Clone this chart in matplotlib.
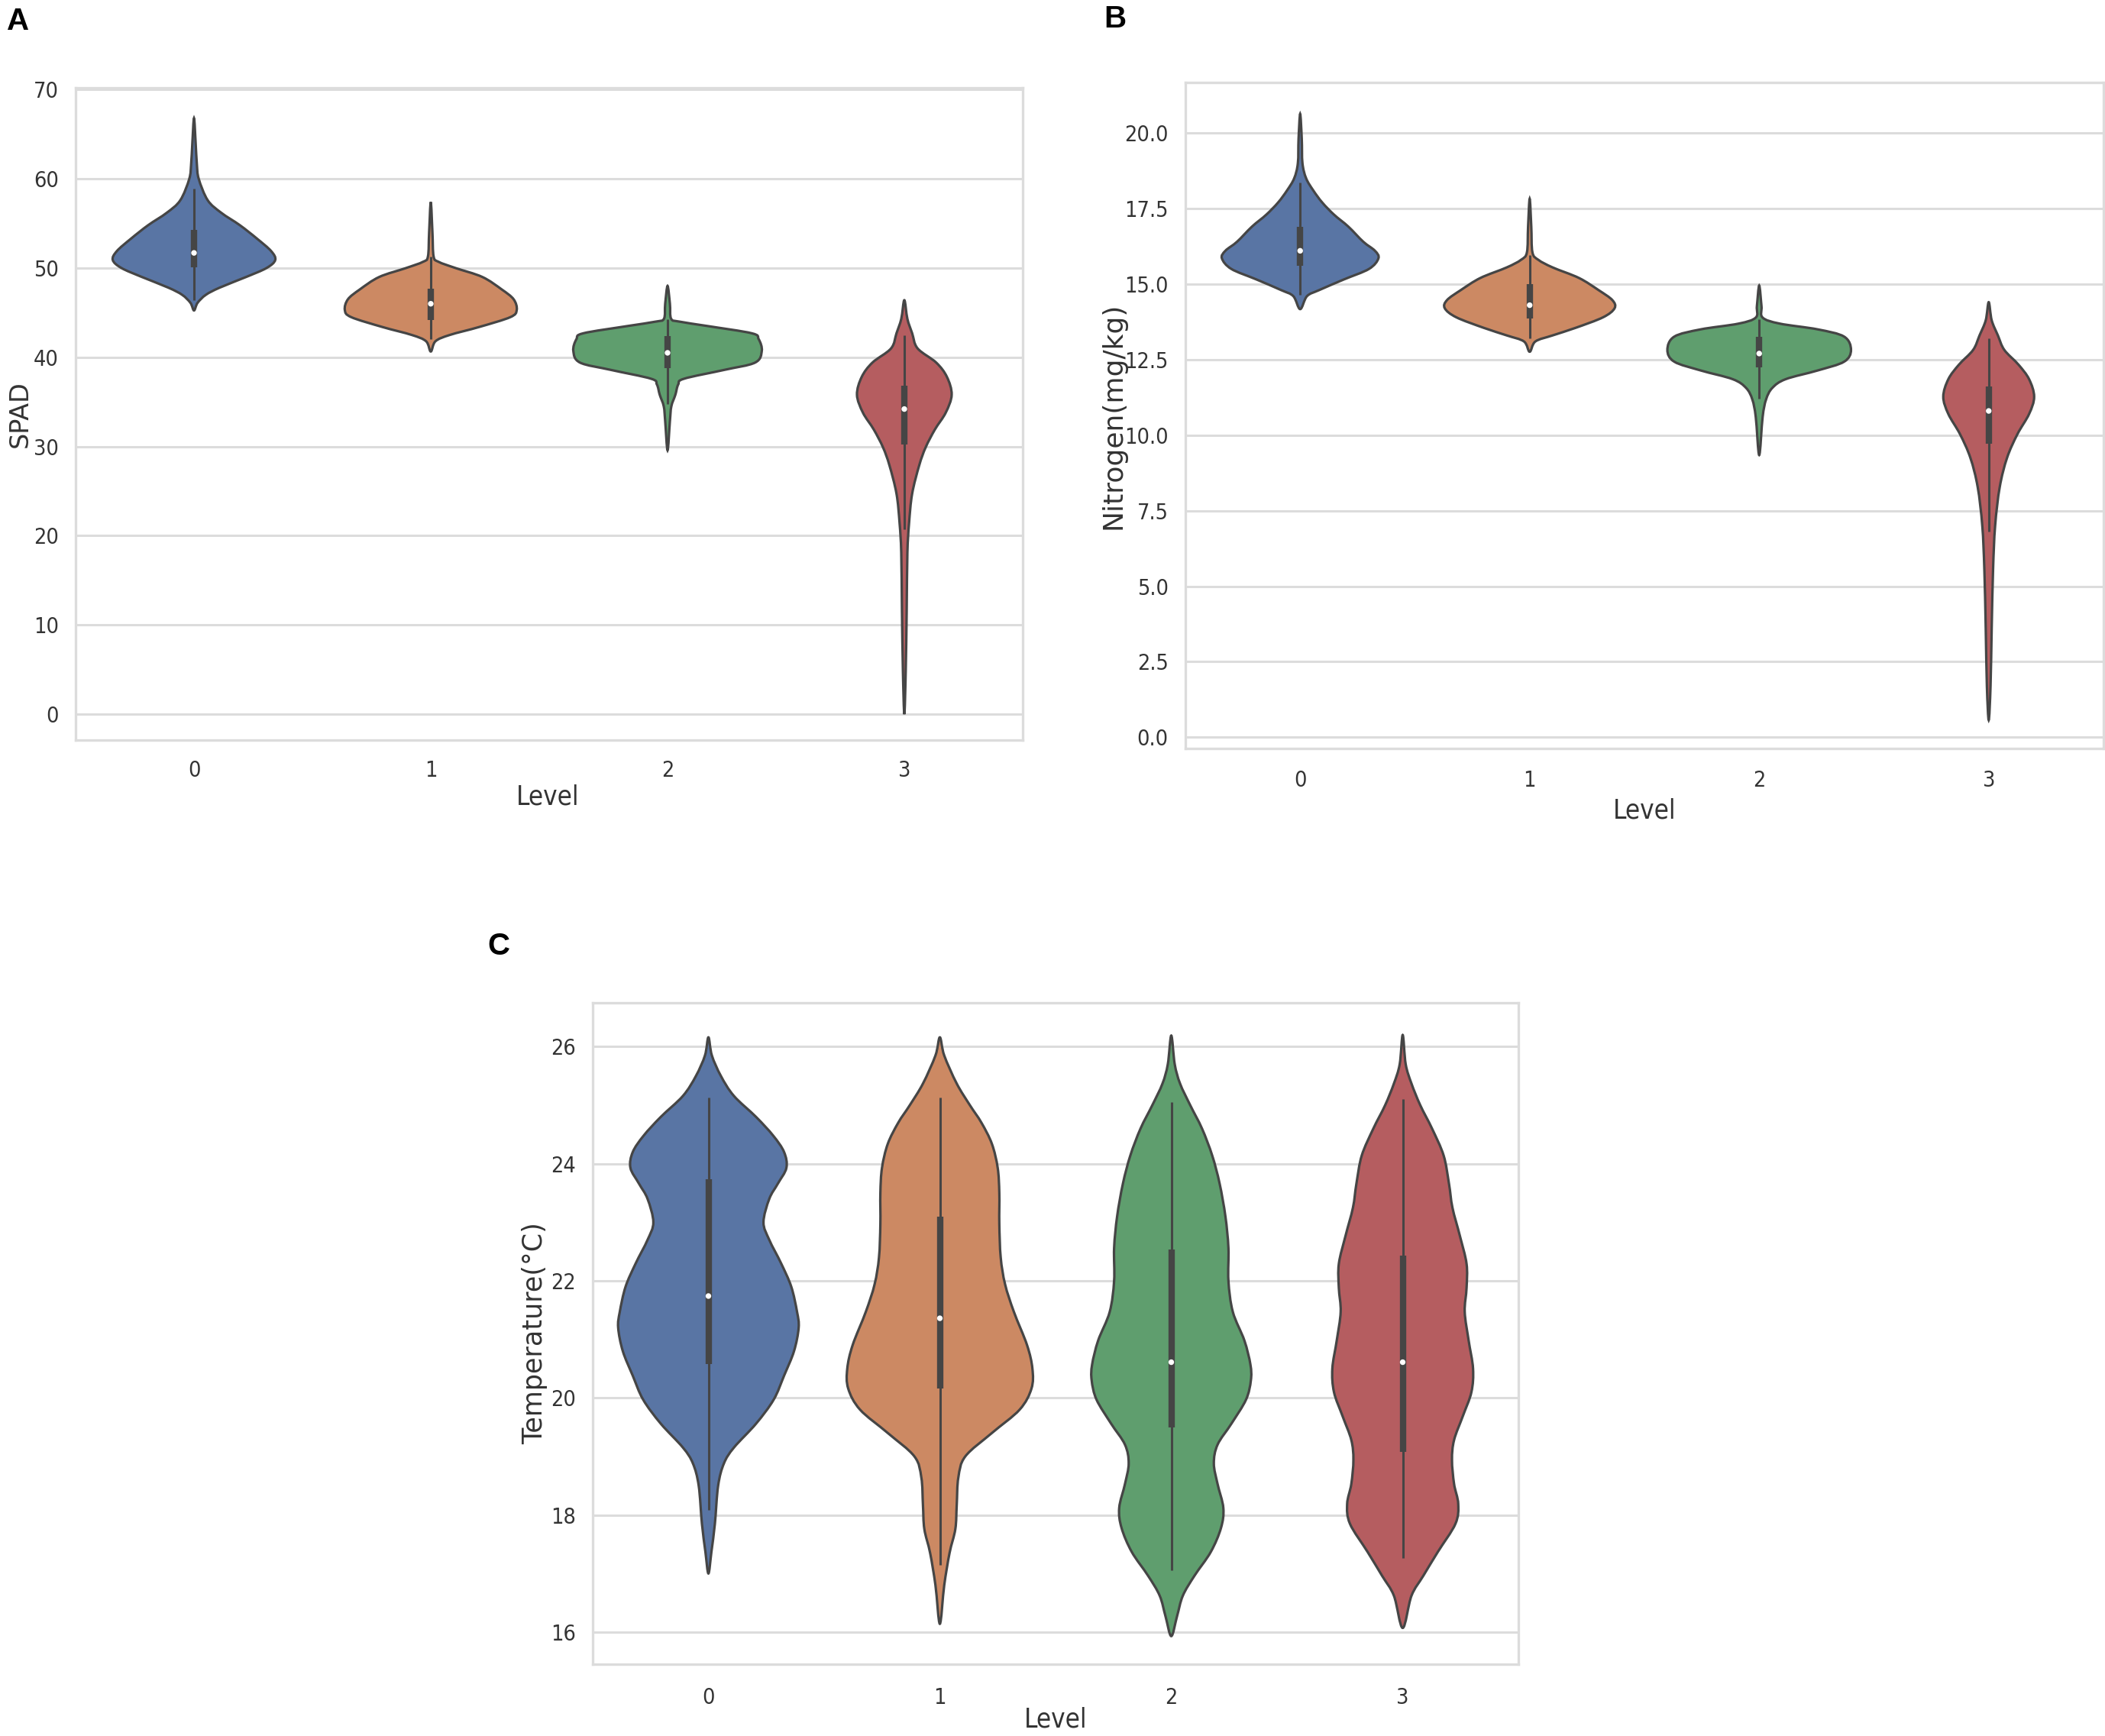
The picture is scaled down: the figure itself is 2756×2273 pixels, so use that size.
import colorsys
import numpy as np
import matplotlib
matplotlib.use("Agg")
import matplotlib.pyplot as plt
from matplotlib import font_manager as fm
from matplotlib.path import Path
from matplotlib.patches import PathPatch

# ---------------- data ----------------
levels = [0, 1, 2, 3]
level_labels = ["0", "1", "2", "3"]

# Panel A: SPAD violin outlines (y value, half width in category units)
spad_y0 = [66.8, 64.0, 61.7, 60.0, 57.6, 56.2, 54.8, 53.3, 51.9, 50.9, 50.0, 49.0, 47.8, 47.0, 46.1, 45.25]
spad_w0 = [0, 0.007, 0.012, 0.02, 0.058, 0.115, 0.194, 0.266, 0.326, 0.343, 0.306, 0.22, 0.108, 0.05, 0.015, 0]
spad_y1 = [57.4, 54.0, 51.3, 50.7, 50.0, 49.0, 47.6, 46.5, 45.3, 44.5, 43.4, 42.5, 41.8, 40.65]
spad_w1 = [0, 0.007, 0.012, 0.033, 0.105, 0.218, 0.30, 0.35, 0.363, 0.336, 0.205, 0.08, 0.02, 0]
spad_y2 = [48.0, 46.0, 44.33, 44.0, 43.5, 42.69, 42.03, 40.72, 39.41, 38.59, 37.6, 36.95, 35.8, 34.5, 32.85, 29.57]
spad_w2 = [0, 0.01, 0.015, 0.05, 0.17, 0.356, 0.385, 0.398, 0.37, 0.24, 0.07, 0.045, 0.033, 0.016, 0.01, 0]
spad_y3 = [46.4, 44.3, 42.7, 41.0, 39.4, 37.8, 35.8, 33.8, 31.9, 29.9, 27.9, 24.7, 21.4, 18.1, 11.6, 4.9, 0.0]
spad_w3 = [0, 0.013, 0.033, 0.056, 0.135, 0.18, 0.2, 0.175, 0.129, 0.09, 0.063, 0.033, 0.02, 0.013, 0.01, 0.006, 0]
spad_q1 = [50.1, 44.2, 38.8, 30.2]
spad_med = [51.7, 46.0, 40.5, 34.2]
spad_q3 = [54.3, 47.7, 42.4, 36.8]
spad_lo = [46.4, 42.0, 34.8, 20.7]
spad_hi = [58.9, 51.3, 44.3, 42.5]

# Panel B: Nitrogen
nit_y0 = [20.63, 19.8, 19.0, 18.5, 18.1, 17.7, 17.3, 16.9, 16.4, 16.1, 15.85, 15.5, 15.15, 14.8, 14.6, 14.17]
nit_w0 = [0, 0.007, 0.01, 0.026, 0.057, 0.096, 0.147, 0.21, 0.275, 0.326, 0.341, 0.30, 0.19, 0.083, 0.03, 0]
nit_y1 = [17.82, 16.9, 16.05, 15.8, 15.55, 15.2, 14.8, 14.47, 14.2, 13.9, 13.55, 13.3, 13.1, 12.76]
nit_w1 = [0, 0.007, 0.012, 0.038, 0.1, 0.215, 0.30, 0.36, 0.37, 0.32, 0.2, 0.1, 0.025, 0]
nit_y2 = [14.95, 14.27, 13.89, 13.69, 13.5, 13.26, 12.82, 12.43, 12.14, 11.85, 11.56, 11.18, 10.6, 9.34]
nit_w2 = [0, 0.01, 0.015, 0.09, 0.255, 0.37, 0.40, 0.37, 0.255, 0.115, 0.057, 0.03, 0.015, 0]
nit_y3 = [14.4, 13.8, 13.3, 12.82, 12.33, 11.85, 11.27, 10.7, 10.03, 9.25, 8.28, 7.0, 5.55, 3.6, 1.7, 0.57]
nit_w3 = [0, 0.013, 0.04, 0.068, 0.13, 0.176, 0.198, 0.176, 0.125, 0.08, 0.048, 0.028, 0.019, 0.013, 0.008, 0]
nit_q1 = [15.6, 13.86, 12.25, 9.72]
nit_med = [16.1, 14.3, 12.7, 10.8]
nit_q3 = [16.9, 15.0, 13.25, 11.6]
nit_lo = [14.65, 13.2, 11.2, 6.8]
nit_hi = [18.35, 15.97, 13.84, 13.2]

# Panel C: Temperature
tmp_y0 = [26.16, 25.85, 25.5, 25.16, 24.8, 24.48, 24.2, 23.93, 23.66, 23.4, 23.0, 22.7, 22.3, 21.9,
          21.47, 21.2, 20.8, 20.38, 19.97, 19.56, 19.15, 18.88, 18.5, 17.85, 17.37, 17.0]
tmp_w0 = [0, 0.015, 0.054, 0.11, 0.206, 0.28, 0.327, 0.337, 0.30, 0.263, 0.238, 0.263, 0.314, 0.358,
          0.383, 0.39, 0.37, 0.327, 0.282, 0.206, 0.11, 0.067, 0.042, 0.028, 0.013, 0]
tmp_y1 = [26.16, 25.85, 25.37, 25.0, 24.7, 24.34, 23.93, 23.5, 22.97, 22.4, 21.94, 21.47, 20.9, 20.5,
          20.16, 19.8, 19.4, 19.0, 18.64, 18.17, 17.76, 17.35, 16.8, 16.14]
tmp_w1 = [0, 0.019, 0.073, 0.13, 0.18, 0.225, 0.25, 0.257, 0.257, 0.263, 0.282, 0.32, 0.377, 0.40,
          0.396, 0.345, 0.225, 0.11, 0.08, 0.073, 0.067, 0.042, 0.019, 0]
tmp_y2 = [26.19, 25.7, 25.37, 25.0, 24.6, 24.14, 23.66, 23.1, 22.56, 22.0, 21.47, 20.98, 20.57, 20.3,
          19.97, 19.56, 19.2, 18.88, 18.53, 18.12, 17.78, 17.37, 16.96, 16.62, 16.27, 15.93]
tmp_w2 = [0, 0.015, 0.038, 0.082, 0.133, 0.177, 0.209, 0.234, 0.247, 0.247, 0.266, 0.316, 0.342, 0.344,
          0.323, 0.26, 0.2, 0.184, 0.2, 0.225, 0.215, 0.171, 0.1, 0.05, 0.025, 0]
tmp_y3 = [26.2, 25.7, 25.37, 25.0, 24.6, 24.14, 23.66, 23.25, 22.77, 22.29, 21.88, 21.47, 20.98, 20.5,
          20.1, 19.69, 19.28, 18.94, 18.53, 18.19, 17.85, 17.37, 16.96, 16.62, 16.07]
tmp_w3 = [0, 0.013, 0.038, 0.076, 0.127, 0.177, 0.2, 0.215, 0.247, 0.276, 0.276, 0.268, 0.285, 0.304,
          0.297, 0.26, 0.222, 0.213, 0.222, 0.24, 0.228, 0.152, 0.089, 0.038, 0]
tmp_q1 = [20.58, 20.16, 19.49, 19.08]
tmp_med = [21.74, 21.36, 20.61, 20.61]
tmp_q3 = [23.73, 23.1, 22.53, 22.43]
tmp_lo = [18.09, 17.15, 17.06, 17.27]
tmp_hi = [25.13, 25.13, 25.06, 25.1]

spad_ticks = [0, 10, 20, 30, 40, 50, 60, 70]
nit_ticks = [0.0, 2.5, 5.0, 7.5, 10.0, 12.5, 15.0, 17.5, 20.0]
tmp_ticks = [16, 18, 20, 22, 24, 26]

base_colors = ["#4C72B0", "#DD8452", "#55A868", "#C44E52"]

# ---------------- style ----------------
def desat(hexc, prop=0.75):
    r, g, b = matplotlib.colors.to_rgb(hexc)
    h, l, s = colorsys.rgb_to_hls(r, g, b)
    return colorsys.hls_to_rgb(h, l, s * prop)

colors = [desat(c) for c in base_colors]
EDGE = "#454545"
GRID = "#dcdcdc"
TXT = "#333333"

all_fonts = fm.fontManager.ttflist
names = {f.name for f in all_fonts}
cond_dejavu = any(f.name == "DejaVu Sans" and "condensed" in str(f.stretch) for f in all_fonts)
if cond_dejavu:
    TICKFONT = dict(family="DejaVu Sans", stretch="condensed")
elif "Liberation Sans Narrow" in names:
    TICKFONT = dict(family="Liberation Sans Narrow")
else:
    TICKFONT = dict(family="DejaVu Sans")

W, H = 2756, 2273
DPI = 200
fig = plt.figure(figsize=(W / DPI, H / DPI), dpi=DPI)
fig.patch.set_facecolor("white")


def outline_path(center, ys, ws):
    ys = np.asarray(ys, float)
    ws = np.asarray(ws, float)
    right = np.column_stack([center + ws, ys])
    left = np.column_stack([center - ws[::-1][1:-1], ys[::-1][1:-1]])
    P = np.vstack([right, left])
    n = len(P)
    verts = [P[0]]
    codes = [Path.MOVETO]
    for i in range(n):
        p0, p1, p2, p3 = P[i - 1], P[i], P[(i + 1) % n], P[(i + 2) % n]
        c1 = p1 + (p2 - p0) / 6.0
        c2 = p2 - (p3 - p1) / 6.0
        verts += [c1, c2, p2]
        codes += [Path.CURVE4] * 3
    verts.append(P[0])
    codes.append(Path.CLOSEPOLY)
    return Path(np.array(verts), codes)


def draw_panel(rect, profiles, q1, med, q3, lo, hi, ylim, yticks, yfmt, ylabel, ylabel_size,
               ylabel_x, xlabel_y, xlabel_x, xpad):
    ax = fig.add_axes(rect)
    ax.set_facecolor("white")
    for i, (ys, ws) in enumerate(profiles):
        patch = PathPatch(outline_path(levels[i], ys, ws), facecolor=colors[i], edgecolor=EDGE,
                          lw=1.15, zorder=2)
        ax.add_patch(patch)
        ax.plot([levels[i], levels[i]], [lo[i], hi[i]], color=EDGE, lw=1.1,
                solid_capstyle="butt", zorder=3)
        ax.plot([levels[i], levels[i]], [q1[i], q3[i]], color=EDGE, lw=3.0,
                solid_capstyle="butt", zorder=3)
        ax.scatter([levels[i]], [med[i]], s=7, color="white", edgecolor="none", zorder=4)
    ax.set_xlim(-0.5, 3.5)
    ax.set_ylim(*ylim)
    ax.set_xticks(levels)
    ax.set_xticklabels(level_labels)
    ax.set_yticks(yticks)
    ax.set_yticklabels([yfmt.format(v) for v in yticks])
    ax.grid(True, axis="y", color=GRID, lw=1.1, zorder=0)
    ax.grid(False, axis="x")
    ax.set_axisbelow(True)
    for s in ax.spines.values():
        s.set_color(GRID)
        s.set_linewidth(1.2)
    ax.tick_params(axis="both", length=0, labelsize=10.3, labelcolor=TXT)
    ax.tick_params(axis="y", pad=8)
    ax.tick_params(axis="x", pad=xpad)
    for lab in ax.get_xticklabels() + ax.get_yticklabels():
        lab.set_fontproperties(fm.FontProperties(size=10.3, **TICKFONT))
    fig.text(ylabel_x / W, 1 - (rect_center_y(rect)), ylabel, rotation=90, ha="center", va="center",
             fontsize=ylabel_size, color=TXT, family="DejaVu Sans")
    fig.text(xlabel_x / W, 1 - xlabel_y / H, "Level", ha="center", va="center",
             fontproperties=fm.FontProperties(size=12.5, **TICKFONT), color=TXT)
    return ax


def rect_center_y(rect):
    return 1 - (rect[1] + rect[3] / 2)


rectA = [99 / W, 1 - 969 / H, 1240 / W, (969 - 115) / H]
rectB = [1552 / W, 1 - 980 / H, 1202 / W, (980 - 108) / H]
rectC = [776 / W, 1 - 2179 / H, 1212 / W, (2179 - 1313) / H]

draw_panel(rectA, [(spad_y0, spad_w0), (spad_y1, spad_w1), (spad_y2, spad_w2), (spad_y3, spad_w3)],
           spad_q1, spad_med, spad_q3, spad_lo, spad_hi, (-2.9, 70.2), spad_ticks, "{:.0f}",
           "SPAD", 12, 26, 1044, 717, 9.5)
draw_panel(rectB, [(nit_y0, nit_w0), (nit_y1, nit_w1), (nit_y2, nit_w2), (nit_y3, nit_w3)],
           nit_q1, nit_med, nit_q3, nit_lo, nit_hi, (-0.37, 21.67), nit_ticks, "{:.1f}",
           "Nitrogen(mg/kg)", 13, 1457, 1062, 2153, 10.2)
draw_panel(rectC, [(tmp_y0, tmp_w0), (tmp_y1, tmp_w1), (tmp_y2, tmp_w2), (tmp_y3, tmp_w3)],
           tmp_q1, tmp_med, tmp_q3, tmp_lo, tmp_hi, (15.45, 26.75), tmp_ticks, "{:.0f}",
           "Temperature(\u00b0C)", 12.6, 700, 2252, 1382, 10.8)

for letter, (x, y) in {"A": (24, 28), "B": (1460, 25), "C": (653, 1239)}.items():
    fig.text(x / W, 1 - y / H, letter, ha="center", va="center", fontsize=14.5,
             fontweight="bold", family="Liberation Sans", color="black")

fig.savefig("out.png", dpi=DPI, facecolor="white")
